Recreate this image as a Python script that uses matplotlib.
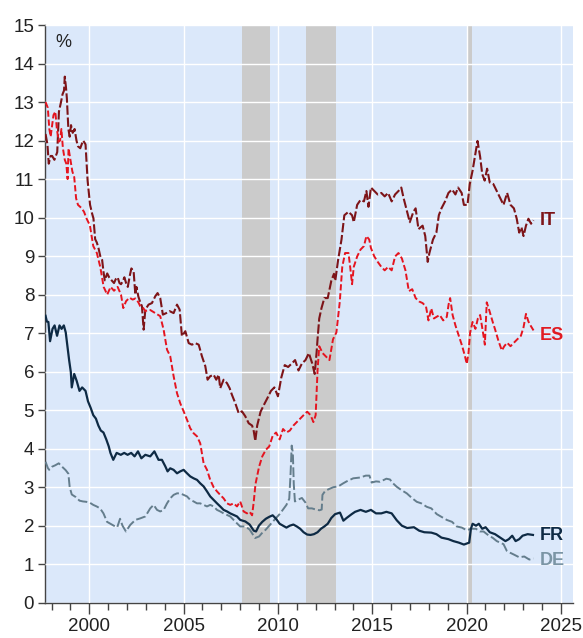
import matplotlib
matplotlib.use("Agg")
import matplotlib.pyplot as plt
from matplotlib.ticker import MultipleLocator
import numpy as np

plt.rcParams['font.family'] = ['Liberation Sans', 'DejaVu Sans']

# ---------------- data ----------------
it_x = [1997.68, 1997.78, 1997.85, 1997.95, 1998.03, 1998.15, 1998.30, 1998.39, 1998.50, 1998.58, 1998.66, 1998.70,
        1998.76, 1998.81, 1998.89, 1998.96, 1999.03, 1999.12, 1999.22, 1999.32, 1999.40, 1999.52, 1999.67, 1999.74,
        1999.80, 1999.91, 2000.04, 2000.15, 2000.22, 2000.31, 2000.40, 2000.49, 2000.58, 2000.68, 2000.75, 2000.82,
        2000.95, 2001.05, 2001.13, 2001.22, 2001.31, 2001.40, 2001.50, 2001.60, 2001.68, 2001.78, 2001.86, 2001.95,
        2002.04, 2002.15, 2002.23, 2002.35, 2002.44, 2002.50, 2002.60, 2002.70, 2002.79, 2002.88, 2002.97, 2003.14,
        2003.32, 2003.50, 2003.62, 2003.76, 2003.90, 2004.08, 2004.26, 2004.47, 2004.65, 2004.79, 2004.91, 2005.09,
        2005.27, 2005.44, 2005.62, 2005.80, 2005.97, 2006.15, 2006.27, 2006.41, 2006.59, 2006.73, 2006.86, 2006.94,
        2007.12, 2007.30, 2007.44, 2007.56, 2007.74, 2007.92, 2008.09, 2008.27, 2008.45, 2008.63, 2008.72, 2008.80,
        2008.90, 2009.08, 2009.26, 2009.45, 2009.63, 2009.81, 2010.00, 2010.18, 2010.36, 2010.54, 2010.73, 2010.91,
        2011.09, 2011.27, 2011.46, 2011.64, 2011.82, 2011.95, 2012.05, 2012.10, 2012.19, 2012.31, 2012.46, 2012.64,
        2012.83, 2012.97, 2013.04, 2013.19, 2013.37, 2013.52, 2013.74, 2013.93, 2014.02, 2014.20, 2014.38, 2014.56,
        2014.69, 2014.80, 2014.93, 2015.11, 2015.29, 2015.48, 2015.66, 2015.84, 2016.03, 2016.21, 2016.39, 2016.54,
        2016.66, 2016.85, 2016.99, 2017.18, 2017.30, 2017.45, 2017.67, 2017.81, 2017.94, 2018.03, 2018.22, 2018.40,
        2018.53, 2018.67, 2018.86, 2019.04, 2019.23, 2019.41, 2019.55, 2019.74, 2019.86, 2020.05, 2020.17, 2020.32,
        2020.47, 2020.58, 2020.72, 2020.83, 2020.96, 2021.09, 2021.23, 2021.42, 2021.60, 2021.78, 2021.96, 2022.15,
        2022.33, 2022.51, 2022.66, 2022.79, 2022.91, 2023.02, 2023.15, 2023.28, 2023.42, 2023.55]
it_y = [12.17, 11.9, 11.4, 11.6, 11.6, 11.5, 11.7, 12.75, 13.0, 13.2, 13.3, 13.66,
        13.4, 13.1, 12.3, 12.1, 12.4, 12.2, 12.3, 12.0, 11.85, 11.8, 12.0, 11.95,
        11.9, 10.96, 10.33, 10.1, 9.98, 9.44, 9.35, 9.2, 9.0, 8.9, 8.6, 8.37,
        8.55, 8.45, 8.4, 8.35, 8.3, 8.4, 8.45, 8.3, 8.27, 8.35, 8.45, 8.3,
        8.2, 8.5, 8.68, 8.6, 8.0, 8.2, 7.95, 7.8, 7.7, 7.09, 7.61, 7.74,
        7.78, 7.96, 8.04, 7.91, 7.48, 7.52, 7.57, 7.52, 7.74, 7.61, 6.92, 7.05,
        6.74, 6.7, 6.74, 6.7, 6.4, 6.14, 5.79, 5.88, 5.92, 5.79, 5.92, 5.57,
        5.79, 5.7, 5.57, 5.4, 5.18, 4.92, 4.97, 4.84, 4.66, 4.6, 4.45, 4.2,
        4.6, 4.96, 5.14, 5.32, 5.5, 5.59, 5.36, 5.85, 6.17, 6.12, 6.21, 6.3,
        6.03, 6.21, 6.3, 6.48, 6.21, 5.94, 6.5, 6.84, 7.38, 7.65, 7.91, 7.91,
        8.36, 8.54, 8.36, 8.9, 9.43, 10.06, 10.15, 10.06, 9.88, 10.33, 10.46, 10.42,
        10.69, 10.28, 10.78, 10.69, 10.6, 10.64, 10.55, 10.64, 10.42, 10.6, 10.69, 10.78,
        10.51, 10.15, 9.88, 10.15, 10.24, 9.7, 9.79, 9.52, 8.85, 9.08, 9.43, 9.61,
        10.06, 10.24, 10.42, 10.64, 10.73, 10.6, 10.78, 10.64, 10.33, 10.33, 10.87, 11.22,
        11.67, 11.99, 11.58, 11.13, 10.96, 11.27, 10.91, 10.87, 10.69, 10.51, 10.33, 10.64,
        10.33, 10.24, 9.97, 9.61, 9.75, 9.52, 9.79, 9.97, 9.84, 9.93]

es_x = [1997.68, 1997.80, 1997.88, 1997.95, 1998.03, 1998.10, 1998.20, 1998.28, 1998.38, 1998.45, 1998.52, 1998.60,
        1998.70, 1998.78, 1998.85, 1998.90, 1999.00, 1999.10, 1999.20, 1999.30, 1999.40, 1999.58, 1999.72, 1999.85,
        2000.03, 2000.21, 2000.40, 2000.58, 2000.76, 2000.95, 2001.13, 2001.31, 2001.50, 2001.68, 2001.80, 2001.95,
        2002.13, 2002.30, 2002.44, 2002.60, 2002.70, 2002.86, 2002.97, 2003.10, 2003.23, 2003.50, 2003.76, 2003.94,
        2004.12, 2004.29, 2004.47, 2004.65, 2004.82, 2005.00, 2005.18, 2005.35, 2005.53, 2005.71, 2005.88, 2006.06,
        2006.24, 2006.41, 2006.59, 2006.77, 2006.94, 2007.12, 2007.30, 2007.47, 2007.65, 2007.83, 2008.00, 2008.18,
        2008.36, 2008.50, 2008.63, 2008.72, 2008.81, 2009.00, 2009.17, 2009.36, 2009.54, 2009.72, 2009.90, 2010.09,
        2010.27, 2010.45, 2010.63, 2010.82, 2011.00, 2011.18, 2011.36, 2011.55, 2011.73, 2011.88, 2012.00, 2012.10,
        2012.19, 2012.37, 2012.55, 2012.73, 2012.92, 2013.10, 2013.28, 2013.41, 2013.56, 2013.74, 2013.83, 2013.93,
        2014.02, 2014.20, 2014.38, 2014.56, 2014.69, 2014.84, 2014.93, 2015.11, 2015.29, 2015.48, 2015.66, 2015.84,
        2016.03, 2016.21, 2016.39, 2016.57, 2016.76, 2016.94, 2017.12, 2017.30, 2017.49, 2017.67, 2017.85, 2017.98,
        2018.13, 2018.27, 2018.40, 2018.58, 2018.76, 2018.95, 2019.05, 2019.13, 2019.26, 2019.41, 2019.59, 2019.77,
        2019.92, 2020.01, 2020.10, 2020.19, 2020.32, 2020.47, 2020.60, 2020.72, 2020.87, 2020.97, 2021.07, 2021.20,
        2021.38, 2021.51, 2021.69, 2021.87, 2022.00, 2022.15, 2022.33, 2022.51, 2022.69, 2022.88, 2023.02, 2023.15,
        2023.28, 2023.39, 2023.55]
es_y = [13.0, 12.85, 12.3, 12.1, 12.4, 12.66, 12.75, 12.3, 11.97, 12.0, 12.3, 11.8,
        11.5, 11.4, 11.0, 11.8, 11.5, 11.2, 11.05, 10.5, 10.33, 10.25, 10.15, 9.98,
        9.8, 9.26, 9.08, 8.72, 8.2, 8.0, 8.2, 8.1, 8.2, 8.0, 7.65, 7.83,
        7.92, 7.87, 7.9, 7.8, 7.7, 7.65, 7.57, 7.6, 7.6, 7.52, 7.44, 7.09,
        6.57, 6.4, 5.88, 5.44, 5.18, 4.97, 4.75, 4.53, 4.4, 4.32, 4.14, 3.62,
        3.45, 3.19, 3.0, 2.89, 2.8, 2.71, 2.58, 2.54, 2.58, 2.5, 2.63, 2.37,
        2.32, 2.36, 2.27, 2.63, 3.08, 3.53, 3.8, 3.97, 4.06, 4.33, 4.42, 4.24,
        4.51, 4.42, 4.47, 4.6, 4.69, 4.78, 4.87, 4.96, 4.87, 4.69, 4.87, 6.03,
        6.66, 6.48, 6.39, 6.3, 6.84, 7.02, 7.82, 8.72, 9.08, 9.08, 8.72, 8.27,
        8.72, 8.99, 9.17, 9.26, 9.52, 9.43, 9.21, 8.99, 8.85, 8.72, 8.63, 8.72,
        8.63, 8.99, 9.08, 8.94, 8.63, 8.09, 8.14, 7.91, 7.82, 7.78, 7.69, 7.33,
        7.64, 7.38, 7.42, 7.47, 7.33, 7.42, 7.75, 7.91, 7.47, 7.2, 6.93, 6.66,
        6.39, 6.2, 6.48, 7.02, 7.29, 7.11, 7.38, 7.47, 7.02, 6.7, 7.8, 7.6,
        7.3, 7.1, 6.8, 6.55, 6.66, 6.75, 6.66, 6.75, 6.84, 6.93, 7.15, 7.5,
        7.3, 7.2, 7.07]

fr_x = [1997.68, 1997.75, 1997.83, 1997.92, 1998.05, 1998.16, 1998.29, 1998.42, 1998.53, 1998.65, 1998.75, 1998.84,
        1998.93, 1999.02, 1999.07, 1999.20, 1999.33, 1999.48, 1999.62, 1999.80, 1999.93, 2000.08, 2000.21, 2000.35,
        2000.48, 2000.61, 2000.75, 2000.90, 2001.03, 2001.12, 2001.27, 2001.45, 2001.67, 2001.85, 2002.03, 2002.22,
        2002.40, 2002.58, 2002.76, 2002.97, 2003.23, 2003.45, 2003.67, 2003.85, 2004.03, 2004.15, 2004.29, 2004.47,
        2004.65, 2004.82, 2005.00, 2005.18, 2005.35, 2005.53, 2005.71, 2005.88, 2006.06, 2006.24, 2006.41, 2006.59,
        2006.77, 2006.94, 2007.12, 2007.30, 2007.47, 2007.65, 2007.83, 2008.00, 2008.27, 2008.50, 2008.72, 2008.84,
        2008.99, 2009.17, 2009.36, 2009.54, 2009.72, 2009.90, 2010.09, 2010.27, 2010.45, 2010.63, 2010.82, 2011.00,
        2011.18, 2011.36, 2011.55, 2011.73, 2011.91, 2012.10, 2012.28, 2012.46, 2012.64, 2012.83, 2013.03, 2013.29,
        2013.47, 2013.64, 2013.91, 2014.09, 2014.38, 2014.66, 2014.93, 2015.20, 2015.48, 2015.75, 2016.03, 2016.30,
        2016.57, 2016.85, 2017.21, 2017.49, 2017.76, 2018.13, 2018.40, 2018.67, 2019.04, 2019.30, 2019.59, 2019.86,
        2020.14, 2020.23, 2020.32, 2020.50, 2020.65, 2020.83, 2021.01, 2021.23, 2021.51, 2021.78, 2022.06, 2022.24,
        2022.42, 2022.60, 2022.79, 2022.97, 2023.24, 2023.52]
fr_y = [7.45, 7.3, 7.29, 6.79, 7.11, 7.2, 6.93, 7.2, 7.11, 7.2, 7.02, 6.66,
        6.3, 5.99, 5.59, 5.94, 5.76, 5.5, 5.59, 5.5, 5.23, 5.05, 4.87, 4.78,
        4.6, 4.47, 4.42, 4.24, 4.06, 3.89, 3.71, 3.89, 3.84, 3.89, 3.84, 3.89,
        3.8, 3.93, 3.75, 3.84, 3.8, 3.93, 3.71, 3.71, 3.54, 3.41, 3.49, 3.45,
        3.36, 3.41, 3.45, 3.36, 3.28, 3.23, 3.19, 3.1, 3.02, 2.89, 2.76, 2.67,
        2.58, 2.5, 2.41, 2.37, 2.32, 2.28, 2.24, 2.15, 2.11, 2.03, 1.87, 1.85,
        2.0, 2.1, 2.18, 2.23, 2.27, 2.18, 2.05, 2.0, 1.95, 2.0, 2.03, 1.98,
        1.92, 1.83, 1.77, 1.76, 1.78, 1.83, 1.92, 1.98, 2.05, 2.2, 2.3, 2.34,
        2.13, 2.2, 2.3, 2.36, 2.41, 2.36, 2.41, 2.32, 2.32, 2.36, 2.32, 2.14,
        2.0, 1.94, 1.96, 1.87, 1.83, 1.82, 1.78, 1.69, 1.65, 1.6, 1.56, 1.51,
        1.56, 1.92, 2.05, 2.0, 2.05, 1.92, 1.96, 1.83, 1.78, 1.69, 1.6, 1.65,
        1.74, 1.6, 1.65, 1.74, 1.78, 1.76]

de_x = [1997.68, 1997.80, 1997.87, 1998.02, 1998.20, 1998.38, 1998.56, 1998.75, 1998.89, 1998.96, 1999.07, 1999.29,
        1999.48, 1999.66, 1999.84, 2000.02, 2000.21, 2000.39, 2000.57, 2000.75, 2000.94, 2001.12, 2001.30, 2001.48,
        2001.63, 2001.76, 2001.94, 2002.17, 2002.44, 2002.70, 2002.97, 2003.23, 2003.41, 2003.59, 2003.76, 2003.94,
        2004.12, 2004.29, 2004.47, 2004.65, 2004.82, 2005.00, 2005.18, 2005.35, 2005.53, 2005.71, 2005.88, 2006.06,
        2006.24, 2006.41, 2006.59, 2006.77, 2006.94, 2007.12, 2007.30, 2007.47, 2007.65, 2007.83, 2008.00, 2008.27,
        2008.50, 2008.79, 2009.00, 2009.14, 2009.36, 2009.54, 2009.72, 2009.90, 2010.09, 2010.27, 2010.45, 2010.60,
        2010.67, 2010.73, 2010.79, 2010.84, 2010.90, 2011.09, 2011.27, 2011.46, 2011.60, 2011.80, 2012.00, 2012.20,
        2012.32, 2012.36, 2012.50, 2012.70, 2012.94, 2013.20, 2013.46, 2013.64, 2013.99, 2014.35, 2014.66, 2014.85,
        2014.97, 2015.20, 2015.41, 2015.75, 2015.94, 2016.10, 2016.30, 2016.56, 2016.83, 2017.10, 2017.36, 2017.60,
        2017.89, 2018.13, 2018.42, 2018.70, 2018.95, 2019.23, 2019.48, 2019.75, 2020.01, 2020.23, 2020.50, 2020.71,
        2020.90, 2021.16, 2021.40, 2021.60, 2021.96, 2022.13, 2022.30, 2022.51, 2022.79, 2023.06, 2023.33, 2023.55]
de_y = [3.66, 3.5, 3.45, 3.53, 3.57, 3.62, 3.53, 3.44, 3.35, 3.0, 2.81, 2.74,
        2.65, 2.63, 2.62, 2.6, 2.54, 2.5, 2.45, 2.32, 2.1, 2.05, 2.0, 1.96,
        2.18, 2.0, 1.85, 2.02, 2.15, 2.19, 2.24, 2.45, 2.54, 2.41, 2.37, 2.41,
        2.58, 2.71, 2.8, 2.84, 2.84, 2.8, 2.76, 2.67, 2.63, 2.58, 2.58, 2.54,
        2.5, 2.54, 2.5, 2.41, 2.37, 2.32, 2.28, 2.24, 2.15, 2.06, 1.98, 1.98,
        1.9, 1.68, 1.72, 1.8, 1.9, 2.0, 2.1, 2.2, 2.3, 2.42, 2.54, 2.7,
        3.35, 4.08, 3.9, 3.08, 2.63, 2.68, 2.72, 2.6, 2.45, 2.45, 2.42, 2.4,
        2.42, 2.8, 2.9, 2.95, 3.0, 3.02, 3.1, 3.15, 3.23, 3.25, 3.3, 3.3,
        3.12, 3.15, 3.14, 3.22, 3.2, 3.1, 3.01, 2.92, 2.84, 2.72, 2.62, 2.58,
        2.49, 2.45, 2.3, 2.22, 2.15, 2.1, 1.98, 1.95, 1.88, 1.92, 1.92, 1.85,
        1.85, 1.75, 1.68, 1.6, 1.52, 1.35, 1.3, 1.25, 1.18, 1.2, 1.12, 1.15]

recession_start = [2008.08, 2011.49, 2020.04]
recession_end = [2009.58, 2013.10, 2020.29]

series_names = ["IT", "ES", "FR", "DE"]

# ---------------- plot ----------------
fig = plt.figure(figsize=(5.83, 6.38), dpi=100)
ax = fig.add_axes([0.0777, 0.0553, 0.9834 - 0.0777, 0.9608 - 0.0553])
ax.set_facecolor('#dbe8fa')

for s, e in zip(recession_start, recession_end):
    ax.axvspan(s, e, color='#cbcbcb', zorder=1, lw=0)

ax.set_axisbelow(False)
ax.grid(True, which='major', color='white', lw=1.0, zorder=1.5)

c_it, c_es, c_fr, c_de = '#7d1418', '#e5141f', '#0e2a44', '#647d8c'
ax.plot(it_x, it_y, color=c_it, lw=1.5, dashes=(4.5, 1.3), zorder=3)
ax.plot(es_x, es_y, color=c_es, lw=1.4, dashes=(3.2, 1.4), zorder=3)
ax.plot(de_x, de_y, color=c_de, lw=1.4, dashes=(5.0, 1.6), zorder=3)
ax.plot(fr_x, fr_y, color=c_fr, lw=1.6, zorder=4)

lab_y = [9.93, 6.94, 1.74, 1.09]
lab_c = [c_it, '#e11b22', c_fr, '#7b95a5']
for n, yv, c in zip(series_names, lab_y, lab_c):
    ax.text(2023.9, yv, n, color=c, fontsize=13, fontweight='bold', ha='left', va='center')

ax.text(0.02, 0.985, '%', transform=ax.transAxes, fontsize=13, color='#222222', ha='left', va='top')

ax.set_xlim(1997.667, 2025.66)
ax.set_ylim(0, 15)
ax.xaxis.set_major_locator(MultipleLocator(5))
ax.xaxis.set_minor_locator(MultipleLocator(1))
ax.yaxis.set_major_locator(MultipleLocator(1))
ax.tick_params(axis='x', which='major', length=8, width=1, color='#444444', labelsize=13.5, labelcolor='#222222', pad=3)
ax.tick_params(axis='x', which='minor', length=5, width=1, color='#444444')
ax.tick_params(axis='y', which='major', length=5, width=1, color='#444444', labelsize=13.5, labelcolor='#222222', pad=3)
for sp in ['top', 'right']:
    ax.spines[sp].set_visible(False)
for sp in ['left', 'bottom']:
    ax.spines[sp].set_color('#444444')
    ax.spines[sp].set_linewidth(1)

fig.savefig('out.png', dpi=100, facecolor='white')
